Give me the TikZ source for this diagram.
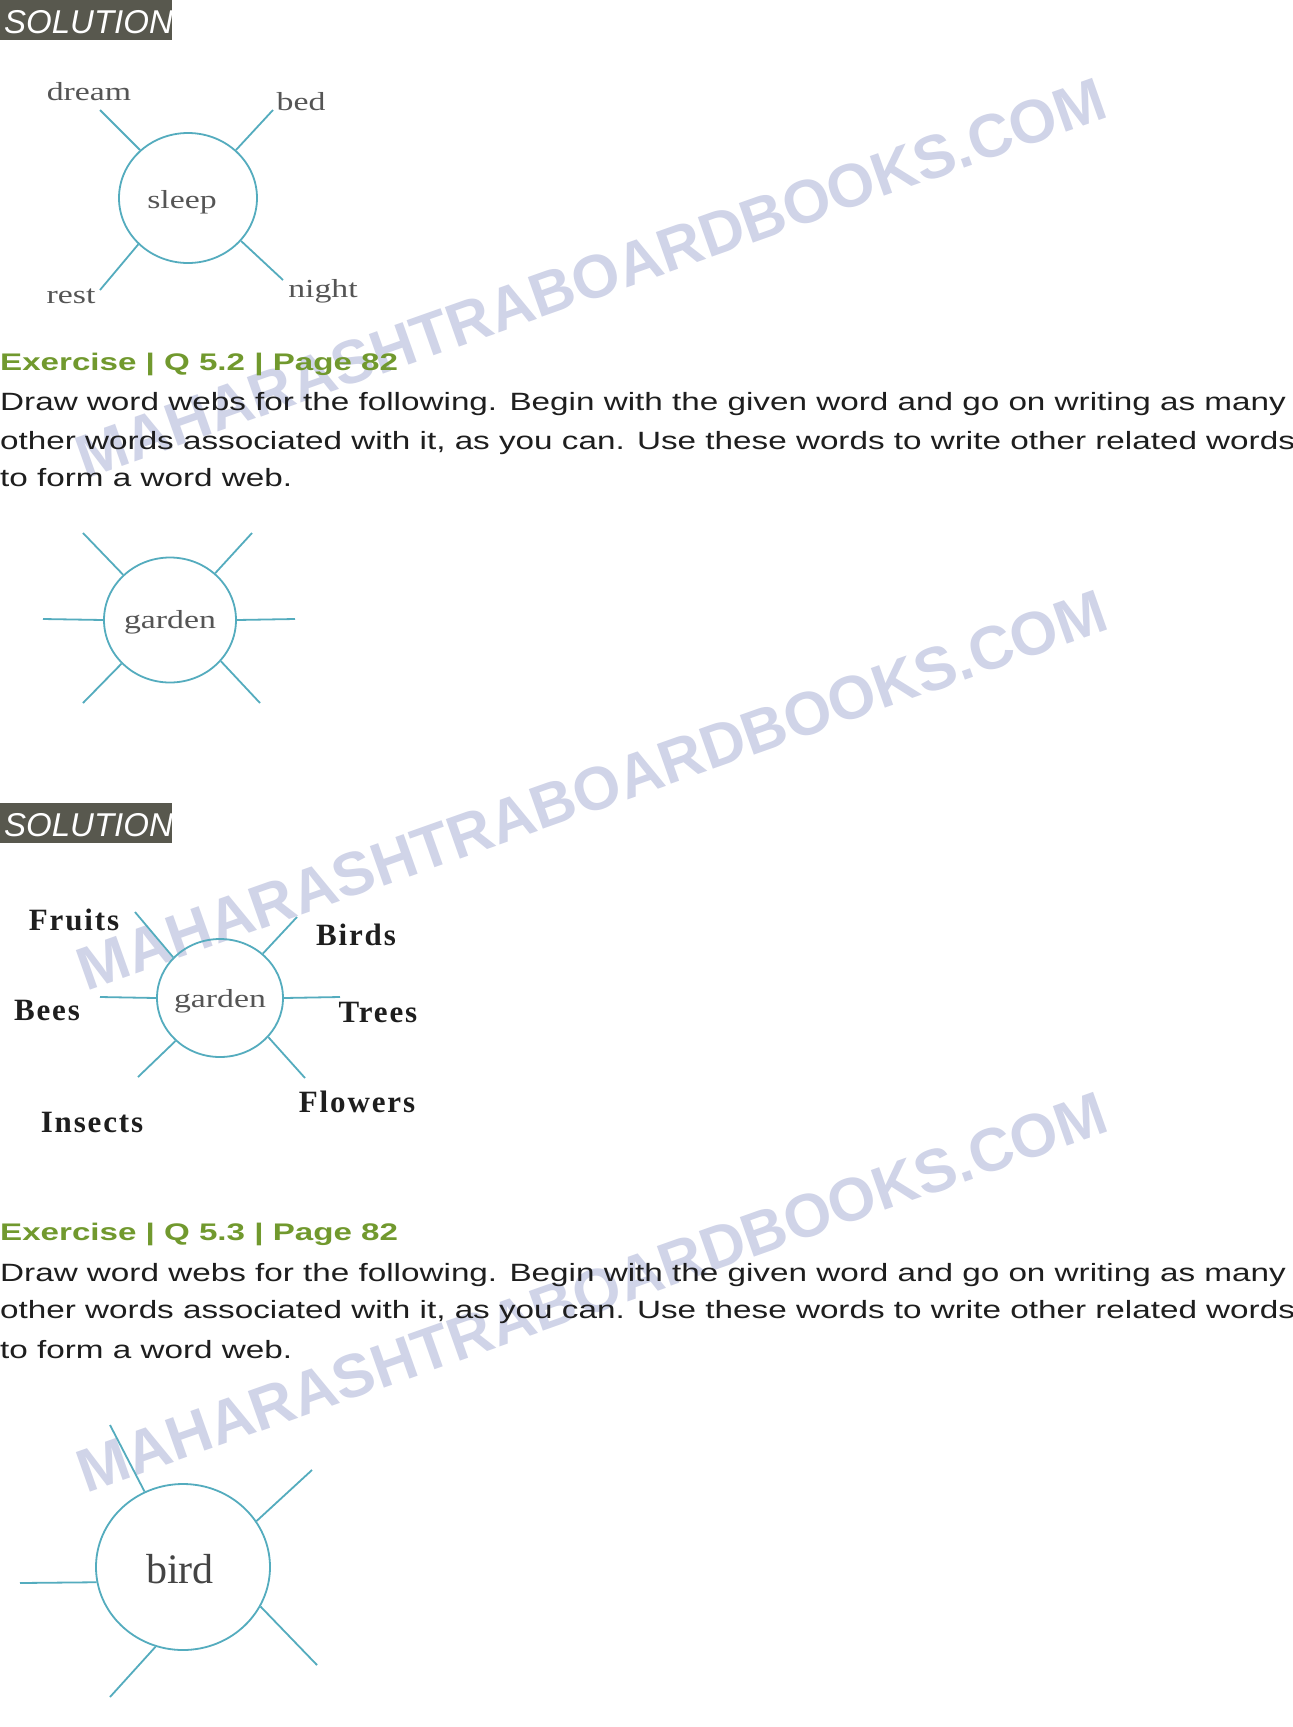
\documentclass[tikz,border=0pt]{standalone}
\usepackage{fontspec}
\setmainfont{Liberation Serif}
\newfontfamily\bodyfont{Liberation Sans}[FakeStretch=1.33]
\newfontfamily\headfont{Liberation Sans}[FakeStretch=1.38]
\newfontfamily\plainsans{Liberation Sans}
\newfontfamily\webfont{Liberation Serif}[FakeStretch=1.3]
\newfontfamily\solserif{Liberation Serif}[LetterSpace=6]
\usetikzlibrary{shapes.geometric}
\definecolor{webline}{RGB}{84,172,190}
\definecolor{solgrey}{RGB}{88,88,78}
\definecolor{headgreen}{RGB}{113,153,46}
\definecolor{bodytext}{RGB}{30,30,30}
\definecolor{wmcolor}{RGB}{208,212,232}
\definecolor{greylabel}{RGB}{85,85,85}
\begin{document}
\begin{tikzpicture}[x=1pt,y=-1pt,
  hub/.style={ellipse, draw=webline, line width=1.8pt, inner sep=0pt},
  spoke/.style={draw=webline, line width=1.8pt},
  solbox/.style={fill=solgrey, inner sep=0pt, anchor=north west, minimum width=172pt, minimum height=40pt},
  soltext/.style={anchor=base west, inner sep=0pt, text=white, font=\plainsans\itshape\fontsize{33}{33}\selectfont},
  heading/.style={anchor=base west, inner sep=0pt, text=headgreen, font=\headfont\bfseries\fontsize{24}{24}\selectfont},
  body/.style={anchor=base west, inner sep=0pt, text=bodytext, font=\bodyfont\fontsize{25}{25}\selectfont},
  lblA/.style={anchor=base, inner sep=0pt, text=greylabel, font=\webfont\fontsize{26}{26}\selectfont},
  lblB/.style={anchor=base, inner sep=0pt, text=bodytext, font=\solserif\bfseries\fontsize{31}{31}\selectfont},
  wm/.style={inner sep=0pt, text=wmcolor, rotate=19.5, font=\plainsans\bfseries\fontsize{61}{61}\selectfont}
]
\useasboundingbox (0,0) rectangle (1293,1727);
\fill[white] (0,0) rectangle (1293,1727);

% watermarks
\node[wm] (wm1) at (591,278) {MAHARASHTRABOARDBOOKS.COM};
\node[wm] (wm2) at (592,790) {MAHARASHTRABOARDBOOKS.COM};
\node[wm] (wm3) at (592,1292) {MAHARASHTRABOARDBOOKS.COM};

% SOLUTION 1
\node[solbox] (sol1) at (0,0) {};
\begin{scope}
\clip (sol1.north west) rectangle (sol1.south east);
\node[soltext] (sol1t) at (4,33) {SOLUTION};
\end{scope}

% sleep web
\node[hub, minimum width=138pt, minimum height=130pt] (sleep) at (188,198) {};
\node[lblA] (sleept) at (182,208) {sleep};
\node[lblA] (dream) at (89,100) {dream};
\node[lblA] (bed) at (301,110) {bed};
\node[lblA] (rest) at (71,303) {rest};
\node[lblA] (night) at (323,297) {night};
\coordinate (s1) at (100,110);
\coordinate (s2) at (273,110);
\coordinate (s3) at (100,290);
\coordinate (s4) at (283,280);
\draw[spoke] (sleep.135) -- (s1);
\draw[spoke] (sleep.45) -- (s2);
\draw[spoke] (sleep.223) -- (s3);
\draw[spoke] (sleep.321) -- (s4);

% Exercise 5.2
\node[heading] (h52) at (0,370) {Exercise | Q 5.2 | Page 82};
\node[body] (b521) at (0,410) {Draw word webs for the following. Begin with the given word and go on writing as many};
\node[body] (b522) at (0,449) {other words associated with it, as you can. Use these words to write other related words};
\node[body] (b523) at (0,486) {to form a word web.};

% garden exercise web
\node[hub, minimum width=132pt, minimum height=125pt] (gex) at (170,620) {};
\node[lblA] (gext) at (170,628) {garden};
\coordinate (g1) at (83,533);
\coordinate (g2) at (252,533);
\coordinate (g3) at (43,619);
\coordinate (g4) at (295,619);
\coordinate (g5) at (83,703);
\coordinate (g6) at (260,703);
\draw[spoke] (gex.136) -- (g1);
\draw[spoke] (gex.46) -- (g2);
\draw[spoke] (gex.180) -- (g3);
\draw[spoke] (gex.0) -- (g4);
\draw[spoke] (gex.222) -- (g5);
\draw[spoke] (gex.321) -- (g6);

% SOLUTION 2
\node[solbox] (sol2) at (0,803) {};
\begin{scope}
\clip (sol2.north west) rectangle (sol2.south east);
\node[soltext] (sol2t) at (4,836) {SOLUTION};
\end{scope}

% garden solution web
\node[hub, minimum width=126pt, minimum height=118pt] (gsol) at (220,998) {};
\node[lblA, text=greylabel] (gsolt) at (220,1007) {garden};
\node[lblB] (fruits) at (74,930) {Fruits};
\node[lblB] (birds) at (356,945) {Birds};
\node[lblB] (bees) at (47,1020) {Bees};
\node[lblB] (trees) at (378,1022) {Trees};
\node[lblB] (flowers) at (357,1112) {Flowers};
\node[lblB] (insects) at (92,1132) {Insects};
\coordinate (f1) at (135,912);
\coordinate (f2) at (297,917);
\coordinate (f3) at (100,997);
\coordinate (f4) at (340,997);
\coordinate (f5) at (138,1077);
\coordinate (f6) at (305,1078);
\draw[spoke] (gsol.139) -- (f1);
\draw[spoke] (gsol.46) -- (f2);
\draw[spoke] (gsol.180) -- (f3);
\draw[spoke] (gsol.0) -- (f4);
\draw[spoke] (gsol.224) -- (f5);
\draw[spoke] (gsol.321) -- (f6);

% Exercise 5.3
\node[heading] (h53) at (0,1240) {Exercise | Q 5.3 | Page 82};
\node[body] (b531) at (0,1281) {Draw word webs for the following. Begin with the given word and go on writing as many};
\node[body] (b532) at (0,1318) {other words associated with it, as you can. Use these words to write other related words};
\node[body] (b533) at (0,1358) {to form a word web.};

% bird web
\node[hub, minimum width=174pt, minimum height=166pt] (bird) at (183,1567) {};
\node[anchor=base, inner sep=0pt, text=greylabel!80!black, font=\fontsize{42}{42}\selectfont] (birdt) at (180,1583) {bird};
\coordinate (d1) at (110,1425);
\coordinate (d2) at (312,1470);
\coordinate (d3) at (20,1583);
\coordinate (d4) at (317,1665);
\coordinate (d5) at (110,1697);
\draw[spoke] (bird.117) -- (d1);
\draw[spoke] (bird.32) -- (d2);
\draw[spoke] (bird.190) -- (d3);
\draw[spoke] (bird.333) -- (d4);
\draw[spoke] (bird.251) -- (d5);
\end{tikzpicture}
\end{document}
